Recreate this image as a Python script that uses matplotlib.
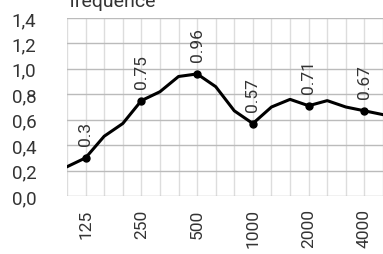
import matplotlib
matplotlib.use('Agg')
import matplotlib.pyplot as plt
import numpy as np

# third-octave bands, 100 Hz .. 5000 Hz
freqs = ['100', '125', '160', '200', '250', '315', '400', '500', '630', '800',
         '1000', '1250', '1600', '2000', '2500', '3150', '4000', '5000']
values = [0.23, 0.30, 0.47, 0.57, 0.75, 0.82, 0.94, 0.96, 0.86, 0.67,
          0.57, 0.70, 0.76, 0.71, 0.75, 0.70, 0.67, 0.64]
labelled = ['125', '250', '500', '1000', '2000', '4000']
label_text = ['0.3', '0.75', '0.96', '0.57', '0.71', '0.67']
yticks = [0.0, 0.2, 0.4, 0.6, 0.8, 1.0, 1.2, 1.4]

plt.rcParams['font.family'] = ['Roboto', 'DejaVu Sans']
txt = '#333333'

fig = plt.figure(figsize=(3.83, 2.55), dpi=100)
ax = fig.add_axes([67/383, 58/255, 316/383, 178/255])

x = np.arange(len(freqs))
ax.plot(x, values, color='black', lw=2.2)

for f, t in zip(labelled, label_text):
    i = freqs.index(f)
    ax.plot(i, values[i], 'o', color='black', ms=5)
    ax.annotate(t, (i, values[i]), xytext=(0, 9), textcoords='offset points',
                rotation=90, ha='center', va='bottom', fontsize=12.5, color=txt)

ax.set_xlim(0, 15.63)
ax.set_ylim(0, 1.4)
ax.set_xticks(x)
ax.set_xticklabels([f if f in labelled else '' for f in freqs], rotation=90,
                   fontsize=12.5, color=txt)
ax.set_yticks(yticks)
ax.set_yticklabels([('%.1f' % v).replace('.', ',') for v in yticks],
                   fontsize=13.5, color=txt)
ax.tick_params(axis='x', length=0, pad=9)
ax.tick_params(axis='y', length=0, pad=22)

ax.grid(axis='x', color='#dddddd', lw=1)
ax.grid(axis='y', color='#bbbbbb', lw=1)
ax.set_axisbelow(True)
for s in ax.spines.values():
    s.set_visible(False)

fig.text(68/383, 1 - 7/255, 'frequence', fontsize=14, color=txt, ha='left', va='baseline')

plt.savefig('out.png', dpi=100)
